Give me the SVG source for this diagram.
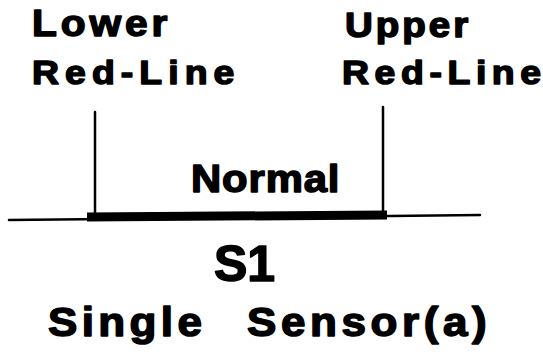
<svg xmlns="http://www.w3.org/2000/svg" width="543" height="363" viewBox="0 0 543 363">
<style>
text{font-family:"Liberation Sans",Arial,sans-serif;font-weight:bold;fill:#000;stroke:#000;stroke-width:1.5;stroke-linejoin:round}
.thin{stroke:#000;stroke-width:2.5;fill:none;stroke-linecap:round}
.thick{stroke:#000;stroke-width:9;fill:none}
</style>
<rect width="543" height="363" fill="#fff"/>
<g id="connectors">
<path class="thin" d="M9,220 L480,215"/>
<path class="thick" d="M87,217 L387,215"/>
<path class="thin" d="M95,112 L95,217"/>
<path class="thin" d="M383,107 L383,215"/>
</g>
<g id="lower">
<text transform="translate(32,36) scale(1.1,1)" font-size="37" textLength="123" lengthAdjust="spacing">Lower</text>
<text transform="translate(32,84) scale(1.1,1)" font-size="34" textLength="184" lengthAdjust="spacing">Red-Line</text>
</g>
<g id="upper">
<text transform="translate(345,37) scale(1.1,1)" font-size="35" textLength="112" lengthAdjust="spacing">Upper</text>
<text transform="translate(342,84) scale(1.1,1)" font-size="34" textLength="181" lengthAdjust="spacing">Red-Line</text>
</g>
<g id="normal">
<text transform="translate(191,192) scale(1.1,1)" font-size="38" textLength="135" lengthAdjust="spacing">Normal</text>
</g>
<g id="s1">
<text x="214" y="281" font-size="50">S1</text>
</g>
<g id="caption">
<text transform="translate(0,336) scale(1.1,1)" font-size="40"><tspan x="43.6" textLength="140" lengthAdjust="spacing">Single</tspan> <tspan x="224.5" textLength="218" lengthAdjust="spacing">Sensor(a)</tspan></text>
</g>
</svg>
